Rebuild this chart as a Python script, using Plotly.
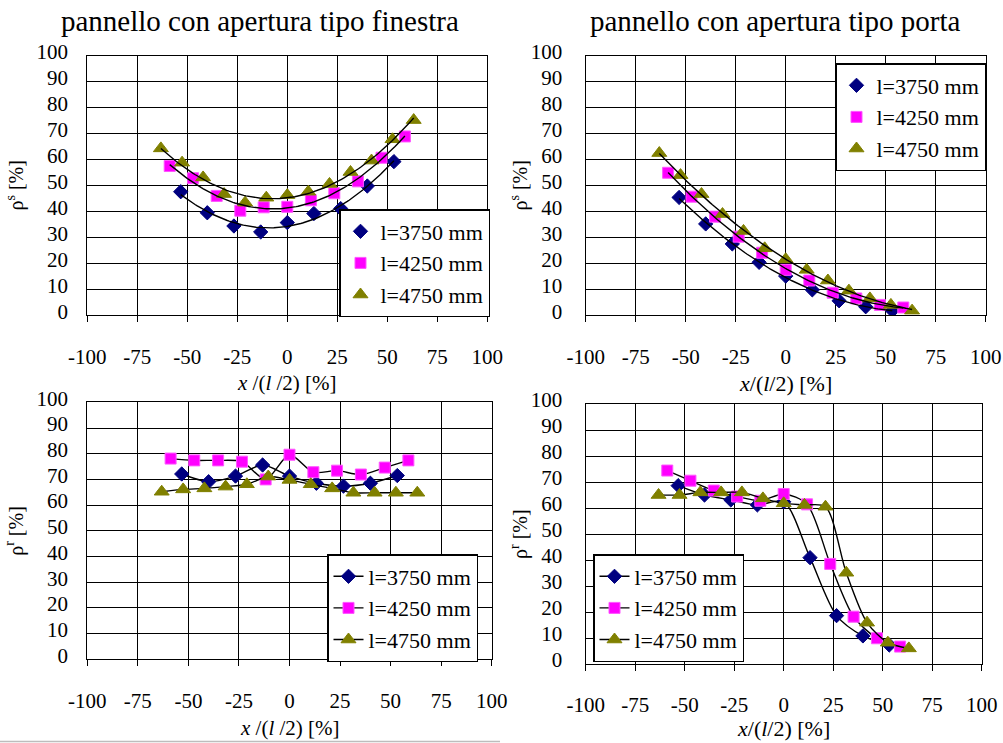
import numpy as np
import plotly.graph_objects as go

# ---- axis ticks -------------------------------------------------------------
x_tick_vals = [-100, -75, -50, -25, 0, 25, 50, 75, 100]
x_tick_text = ["-100", "-75", "-50", "-25", "0", "25", "50", "75", "100"]
y_tick_vals = [0, 10, 20, 30, 40, 50, 60, 70, 80, 90, 100]
y_tick_text = [str(v) for v in y_tick_vals]

# ---- panel length series ----------------------------------------------------
series_names = ["l=3750 mm", "l=4250 mm", "l=4750 mm"]

# measuring positions x/(l/2) [%] for each panel length
x_3750 = [-53.3, -40.0, -26.7, -13.3, 0.0, 13.3, 26.7, 40.0, 53.3]
x_4250 = [-58.8, -47.1, -35.3, -23.5, -11.8, 0.0, 11.8, 23.5, 35.3, 47.1, 58.8]
x_4750 = [-63.2, -52.6, -42.1, -31.6, -21.1, -10.5, 0.0, 10.5, 21.1, 31.6, 42.1, 52.6, 63.2]

# rho_s [%] - panel with window opening
rs_fin_3750 = [47.6, 39.5, 34.4, 32.1, 35.7, 39.2, 41.1, 49.8, 59.2]
rs_fin_4250 = [57.5, 52.8, 46.0, 40.3, 41.6, 41.8, 44.3, 47.0, 51.6, 60.7, 68.9]
rs_fin_4750 = [64.3, 58.8, 53.1, 46.7, 43.4, 45.3, 46.3, 47.6, 50.6, 55.2, 59.6, 67.8, 75.2]

# rho_s [%] - panel with door opening
rs_por_3750 = [45.4, 35.2, 27.5, 20.4, 15.1, 9.8, 5.6, 3.3, 1.8]
rs_por_4250 = [54.9, 45.7, 38.0, 30.3, 24.1, 17.5, 13.4, 8.7, 6.5, 4.0, 3.0]
rs_por_4750 = [62.5, 54.0, 46.7, 39.0, 32.5, 25.8, 21.6, 17.5, 13.4, 9.5, 6.5, 4.0, 1.8]

# rho_r [%] - panel with window opening
rr_fin_3750 = [72.1, 69.1, 71.3, 75.6, 71.3, 68.5, 67.4, 68.5, 71.5]
rr_fin_4250 = [78.1, 77.4, 77.4, 76.9, 70.0, 79.6, 72.8, 73.4, 71.9, 74.6, 77.4]
rr_fin_4750 = [65.2, 66.1, 66.5, 67.2, 68.1, 71.1, 69.8, 68.1, 66.5, 64.8, 64.8, 64.8, 64.8]

# rho_r [%] - panel with door opening
rr_por_3750 = [68.6, 65.0, 63.1, 61.2, 62.4, 40.9, 18.6, 10.8, 7.3]
rr_por_4250 = [74.4, 70.5, 66.7, 64.4, 62.8, 65.4, 61.4, 38.5, 18.2, 9.9, 6.7]
rr_por_4750 = [65.0, 65.0, 66.0, 66.0, 66.0, 63.7, 61.8, 61.2, 60.5, 35.1, 15.9, 8.2, 6.0]

panel_titles = ["pannello con apertura tipo finestra", "pannello con apertura tipo porta"]
x_titles = {
    1: "<i>x</i> /(<i>l</i> /2) [%]",
    2: "<i>x</i>/(<i>l</i>/2) [%]",
    3: "<i>x</i> /(<i>l</i> /2) [%]",
    4: "<i>x</i>/(<i>l</i>/2) [%]",
}
y_titles = {1: "ρ<sup>s</sup> [%]", 2: "ρ<sup>s</sup> [%]", 3: "ρ<sup>r</sup> [%]", 4: "ρ<sup>r</sup> [%]"}

# ---- styling ----------------------------------------------------------------
W, H = 1003, 743
FONT = "Times New Roman"
markers = [
    dict(symbol="diamond", size=11, color="#000080", line=dict(color="#000080", width=1)),
    dict(symbol="square", size=11, color="#FF00FF", line=dict(color="#FF55FF", width=1)),
    dict(symbol="triangle-up", size=13, color="#808000", line=dict(color="#808000", width=1)),
]
LINE = dict(color="black", width=1.4)


def px_x(p):
    return p / W


def px_y(p):
    return 1 - p / H


# plot areas in pixel space: (left, right, top, bottom)
areas = {
    1: (87.3, 487.3, 55.7, 315.3),
    2: (585.7, 985.7, 55.7, 315.3),
    3: (87.3, 491.7, 402.3, 659.3),
    4: (585.7, 981.7, 404.0, 664.0),
}

fig = go.Figure()

xs = [x_3750, x_4250, x_4750]
top_sets = {1: [rs_fin_3750, rs_fin_4250, rs_fin_4750],
            2: [rs_por_3750, rs_por_4250, rs_por_4750]}
bot_sets = {3: [rr_fin_3750, rr_fin_4250, rr_fin_4750],
            4: [rr_por_3750, rr_por_4250, rr_por_4750]}

legend_ids = {1: "legend", 2: "legend2", 3: "legend3", 4: "legend4"}


def axis_refs(k):
    return ("x" if k == 1 else f"x{k}", "y" if k == 1 else f"y{k}")


# top panels: measured points with second-order polynomial trendlines
for k, sets in top_sets.items():
    xr, yr = axis_refs(k)
    for i, ys in enumerate(sets):
        fig.add_trace(go.Scatter(x=xs[i], y=ys, mode="markers", name=series_names[i],
                                 marker=markers[i], xaxis=xr, yaxis=yr,
                                 legend=legend_ids[k], showlegend=True))
    for i, ys in enumerate(sets):
        coef = np.polyfit(xs[i], ys, 2)
        xf = np.linspace(min(xs[i]), max(xs[i]), 120)
        fig.add_trace(go.Scatter(x=xf, y=np.polyval(coef, xf), mode="lines", line=LINE,
                                 xaxis=xr, yaxis=yr, showlegend=False, hoverinfo="skip"))

# bottom panels: smoothed lines through the measured points
for k, sets in bot_sets.items():
    xr, yr = axis_refs(k)
    for i, ys in enumerate(sets):
        fig.add_trace(go.Scatter(x=xs[i], y=ys, mode="lines+markers", name=series_names[i],
                                 marker=markers[i], line=dict(color="black", width=1.4,
                                                              shape="spline", smoothing=0.8),
                                 xaxis=xr, yaxis=yr, legend=legend_ids[k], showlegend=True))

layout = dict(
    template="none",
    width=W, height=H, autosize=False,
    margin=dict(l=0, r=0, t=0, b=0, pad=0, autoexpand=False),
    paper_bgcolor="white", plot_bgcolor="white",
    font=dict(family=FONT, size=21, color="black"),
    showlegend=True,
)

for k, (l, r, t, b) in areas.items():
    xname = "xaxis" if k == 1 else f"xaxis{k}"
    yname = "yaxis" if k == 1 else f"yaxis{k}"
    xr, yr = axis_refs(k)
    layout[xname] = dict(
        domain=[px_x(l), px_x(r)], anchor=yr, range=[-100, 100], automargin=False,
        tickvals=x_tick_vals, ticktext=x_tick_text,
        showgrid=True, gridcolor="black", gridwidth=1.3,
        showline=True, linecolor="black", linewidth=1.3, mirror=True,
        ticks="outside", ticklen=6, tickwidth=1.3, tickcolor="black",
        ticklabelstandoff=16, zeroline=False,
        tickfont=dict(family=FONT, size=21, color="black"),
    )
    layout[yname] = dict(
        domain=[px_y(b), px_y(t)], anchor=xr, range=[0, 100], automargin=False,
        tickvals=y_tick_vals, ticktext=y_tick_text,
        showgrid=True, gridcolor="black", gridwidth=1.3,
        showline=True, linecolor="black", linewidth=1.3, mirror=True,
        ticks="", ticklabelstandoff=14 if k in (1, 3) else 18,
        ticklabelshift=-4, zeroline=False,
        tickfont=dict(family=FONT, size=21, color="black"),
    )

legend_boxes = {1: (339, 209), 2: (835, 63), 3: (327, 554), 4: (593, 554)}
for k, (lx, ty) in legend_boxes.items():
    layout[legend_ids[k]] = dict(
        x=px_x(lx), y=px_y(ty), xanchor="left", yanchor="top",
        bgcolor="white", bordercolor="black", borderwidth=1.5,
        font=dict(family=FONT, size=22, color="black"),
        itemwidth=30, tracegroupgap=0,
    )

fig.update_layout(**layout)

# panel titles
for txt, cx in zip(panel_titles, [260, 775]):
    fig.add_annotation(text=txt, x=px_x(cx), y=px_y(21), xref="paper", yref="paper",
                       showarrow=False, font=dict(family=FONT, size=29, color="black"),
                       xanchor="center", yanchor="middle")

# axis titles
for k, cy in zip([1, 2, 3, 4], [383, 383, 728, 728]):
    l, r, t, b = areas[k]
    fig.add_annotation(text=x_titles[k], x=px_x((l + r) / 2), y=px_y(cy), xref="paper",
                       yref="paper", showarrow=False,
                       font=dict(family=FONT, size=21 if k in (1, 3) else 22, color="black"),
                       xanchor="center", yanchor="middle")

y_title_x = {1: 15, 2: 519, 3: 15, 4: 519}
for k, txt in y_titles.items():
    l, r, t, b = areas[k]
    fig.add_annotation(text=txt, x=px_x(y_title_x[k]), y=px_y((t + b) / 2), xref="paper",
                       yref="paper", showarrow=False, textangle=-90,
                       font=dict(family=FONT, size=20, color="black"),
                       xanchor="center", yanchor="middle")

# thin separator rule under the left column
fig.add_shape(type="line", xref="paper", yref="paper", x0=0, x1=px_x(500),
              y0=px_y(741.5), y1=px_y(741.5), line=dict(color="#bdbdbd", width=1.5))

fig.write_html("out.html")
